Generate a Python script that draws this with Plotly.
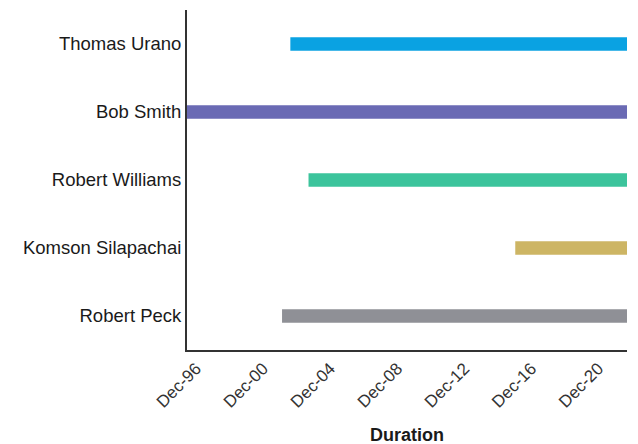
import plotly.graph_objects as go
import pandas as pd

names = ["Thomas Urano", "Bob Smith", "Robert Williams", "Komson Silapachai", "Robert Peck"]
starts = ["2002-07-15", "1996-05-15", "2003-08-15", "2015-12-15", "2002-01-15"]
ends = ["2022-08-15", "2022-08-15", "2022-08-15", "2022-08-15", "2022-08-15"]
colors = ["#0aa2e2", "#6a6ab4", "#3cc49c", "#cdb564", "#8f9096"]
tick_vals = ["1996-12-01", "2000-12-01", "2004-12-01", "2008-12-01", "2012-12-01", "2016-12-01", "2020-12-01"]
tick_text = ["Dec-96", "Dec-00", "Dec-04", "Dec-08", "Dec-12", "Dec-16", "Dec-20"]

durations = [(pd.Timestamp(e) - pd.Timestamp(s)).total_seconds() * 1000 for s, e in zip(starts, ends)]

fig = go.Figure(go.Bar(
    y=names, x=durations, base=starts, orientation="h",
    marker=dict(color=colors, line=dict(width=0)),
    width=0.2,
))

fig.update_layout(
    width=638, height=444,
    margin=dict(l=179, r=19, t=2, b=102),
    paper_bgcolor="white", plot_bgcolor="white",
    font=dict(family="Liberation Sans, Arial, sans-serif", size=16, color="#1a1a1a"),
    showlegend=False,
    bargap=0.8,
)
fig.update_xaxes(
    type="date", range=["1996-05-15", "2022-08-15"],
    tickvals=tick_vals, ticktext=tick_text, tickangle=-45,
    tickfont=dict(size=17, color="#333"),
    showgrid=False, zeroline=False,
    showline=True, linecolor="#333", linewidth=2,
    title=dict(text="<b>Duration</b>", font=dict(size=18, color="#1a1a1a"), standoff=18),
)
fig.update_yaxes(
    categoryorder="array", categoryarray=names[::-1],
    range=[-0.5, 4.5],
    showgrid=False, zeroline=False,
    showline=True, linecolor="#333", linewidth=2,
    tickfont=dict(size=18.5, color="#1a1a1a"), ticks="", ticklen=0,
)

fig.write_html("out.html")
